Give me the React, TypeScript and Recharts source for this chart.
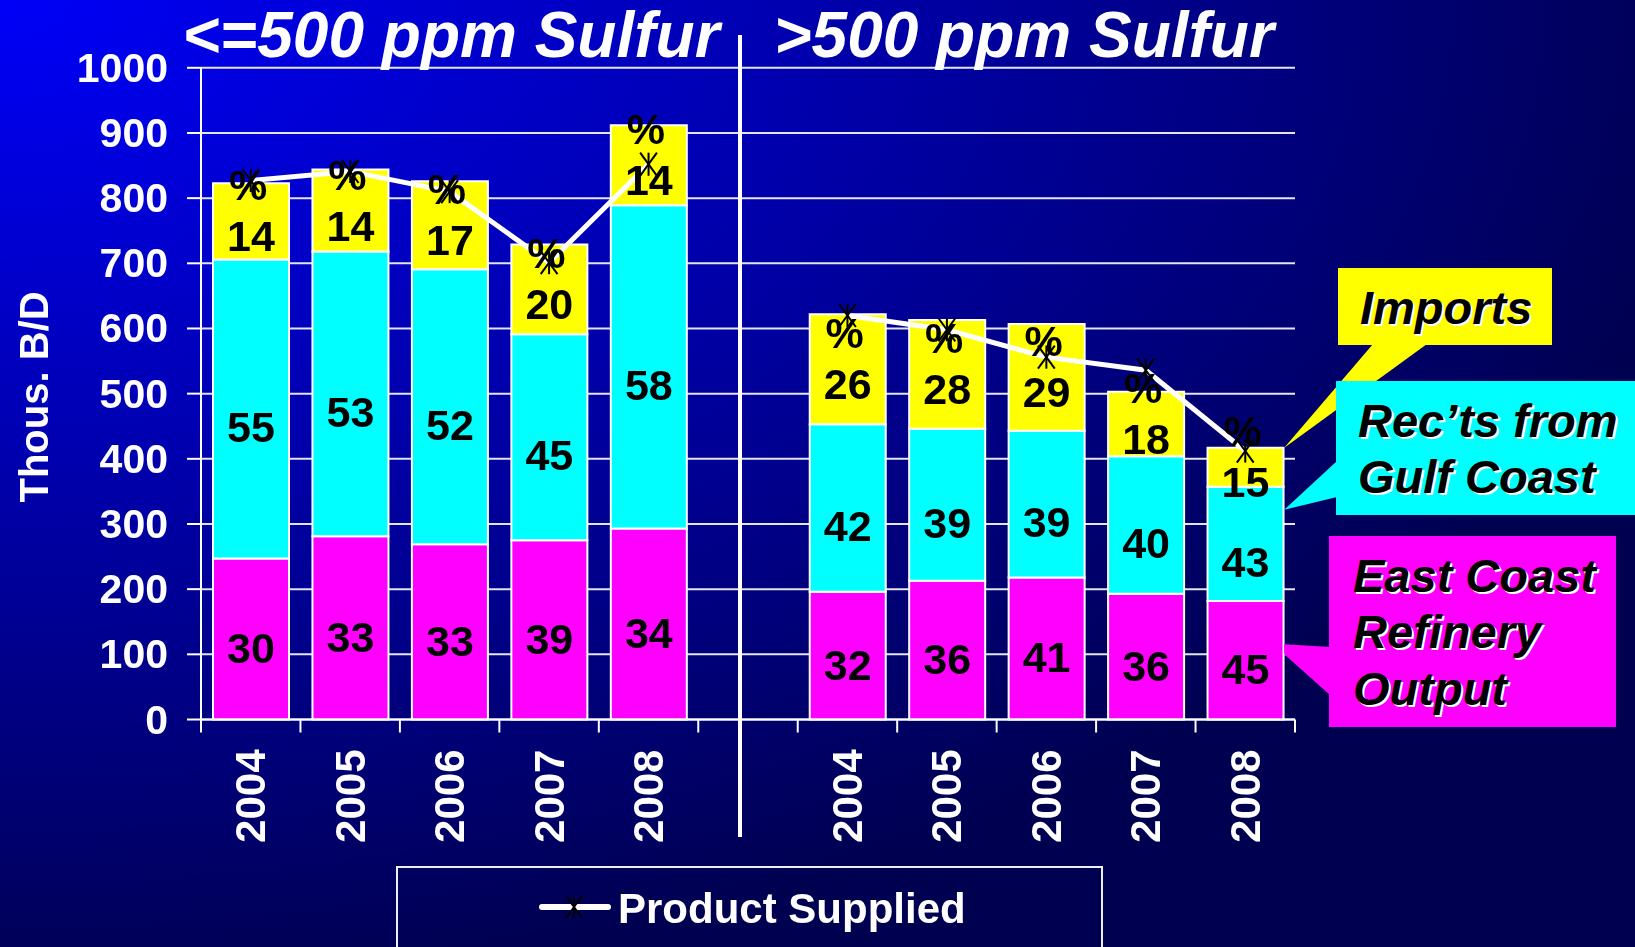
import React from 'react';
import { ComposedChart, Bar, Line, XAxis, YAxis, CartesianGrid, LabelList, Legend } from 'recharts';

// ---------- data ----------
const categories = ['2004', '2005', '2006', '2007', '2008', '', '2004', '2005', '2006', '2007', '2008'];
const refineryOutput = [247, 281, 269, 275, 293, null, 196, 213, 218, 193, 182];
const gulfCoastReceipts = [459, 437, 422, 316, 496, null, 257, 233, 225, 211, 175];
const imports = [117, 126, 135, 138, 123, null, 169, 167, 164, 99, 60];
const productSupplied = [827, 841, 810, 701, 852, null, 620, 598, 556, 536, 412];
const refineryPct = [30, 33, 33, 39, 34, null, 32, 36, 41, 36, 45];
const gulfPct = [55, 53, 52, 45, 58, null, 42, 39, 39, 40, 43];
const importsPct = [14, 14, 17, 20, 14, null, 26, 28, 29, 18, 15];
const yTicks = [0, 100, 200, 300, 400, 500, 600, 700, 800, 900, 1000];
const groupTitles = ['<=500 ppm Sulfur', '>500 ppm Sulfur'];
const seriesNames = ['East Coast Refinery Output', 'Rec\u2019ts from Gulf Coast', 'Imports', 'Product Supplied'];

const data = categories.map((year, i) => ({
  year,
  refinery: refineryOutput[i],
  gulf: gulfCoastReceipts[i],
  imports: imports[i],
  supplied: productSupplied[i],
  refPct: refineryPct[i],
  gulfPct: gulfPct[i],
  impPct: importsPct[i],
}));

// ---------- layout ----------
const W = 1635;
const H = 947;
const PLOT_L = 201;
const PLOT_R = 1295;
const PLOT_T = 67.8;
const PLOT_B = 719.5;
const Y_MAX = 1000;
const X_AXIS_H = 120;
const BAR = 76;
const FONT = '"Liberation Sans", Arial, Helvetica, sans-serif';
const SLOT = (PLOT_R - PLOT_L) / categories.length;

const yScale = (v: number) => PLOT_B - (v / Y_MAX) * (PLOT_B - PLOT_T);
const xCenter = (i: number) => PLOT_L + (i + 0.5) * SLOT;

const Star = ({ cx, cy, size = 1 }: any) => (
  <g stroke="#000" strokeWidth={2}>
    <line x1={cx} y1={cy - 11 * size} x2={cx} y2={cy + 11 * size} />
    <line x1={cx - 8 * size} y1={cy - 11 * size} x2={cx + 8 * size} y2={cy + 11 * size} />
    <line x1={cx + 8 * size} y1={cy - 11 * size} x2={cx - 8 * size} y2={cy + 11 * size} />
  </g>
);

const StarDot = (props: any) => {
  const { cx, cy, value, index } = props;
  if (value == null || cx == null || cy == null) return <g key={`d${index}`} />;
  return <g key={`d${index}`}><Star cx={cx} cy={cy} size={1.05} /></g>;
};

const makeLabel = (withPct: boolean, dy: number) => (props: any) => {
  const { x, y, width, height, value } = props;
  if (value == null || x == null) return null;
  const cx = Number(x) + Number(width) / 2;
  const cy = Number(y) + Number(height) / 2 + dy;
  const style = { fontFamily: FONT, fontWeight: 700, fontSize: 43, fill: '#000' } as any;
  return (
    <g>
      {withPct && (
        <text x={cx - 3} y={cy - 51} textAnchor="middle" dominantBaseline="central" style={style}>%</text>
      )}
      <text x={cx} y={cy} textAnchor="middle" dominantBaseline="central" style={style}>{value}</text>
    </g>
  );
};

const XTick = (props: any) => {
  const { x, payload, index } = props;
  const ty = PLOT_B + 30;
  return (
    <g>
      <line x1={x - SLOT / 2} x2={x - SLOT / 2} y1={PLOT_B} y2={PLOT_B + 13} stroke="#fff" strokeWidth={2} />
      {index === categories.length - 1 && (
        <line x1={x + SLOT / 2} x2={x + SLOT / 2} y1={PLOT_B} y2={PLOT_B + 13} stroke="#fff" strokeWidth={2} />
      )}
      <text
        x={x}
        y={ty}
        transform={`rotate(-90 ${x} ${ty})`}
        textAnchor="end"
        dominantBaseline="central"
        style={{ fontFamily: FONT, fontWeight: 700, fontSize: 42, fill: '#fff' }}
      >
        {payload.value}
      </text>
    </g>
  );
};

const YTick = (props: any) => {
  const { x, y, payload } = props;
  return (
    <text x={x} y={y} textAnchor="end" dominantBaseline="central"
      style={{ fontFamily: FONT, fontWeight: 700, fontSize: 41, fill: '#fff' }}>
      {payload.value}
    </text>
  );
};

const LegendBox = () => (
  <svg width={707} height={120} style={{ display: 'block', overflow: 'visible' }}>
    <rect x={1} y={1} width={705} height={140} fill="none" stroke="#eeeeee" strokeWidth={2} />
    <line x1={146} x2={212} y1={41} y2={41} stroke="#fff" strokeWidth={6} strokeLinecap="round" />
    <Star cx={178} cy={41} />
    <text x={222} y={57} style={{ fontFamily: FONT, fontWeight: 700, fontSize: 42, fill: '#fff' }}>
      {seriesNames[3]}
    </text>
  </svg>
);

const ShadowText = ({ x, y, children, size = 47 }: any) => {
  const st = { fontFamily: FONT, fontWeight: 700, fontStyle: 'italic', fontSize: size } as any;
  return (
    <g>
      <text x={x + 2} y={y + 2} style={{ ...st, fill: '#fff' }}>{children}</text>
      <text x={x} y={y} style={{ ...st, fill: '#000' }}>{children}</text>
    </g>
  );
};

const Overlay = () => {
  const last = categories.length - 1;
  const barRight = xCenter(last) + BAR / 2 + 1;
  const tot = (refineryOutput[last] as number) + (gulfCoastReceipts[last] as number) + (imports[last] as number);
  const impTipY = yScale(tot);
  const gulfTipY = yScale((refineryOutput[last] as number) + (gulfCoastReceipts[last] as number) * 0.8);
  const refTipY = yScale((refineryOutput[last] as number) * 0.6);
  const dividerX = xCenter(5) - 8;
  const titleStyle = { fontFamily: FONT, fontWeight: 700, fontStyle: 'italic', fontSize: 64, fill: '#fff' } as any;
  return (
    <svg width={W} height={H} style={{ position: 'absolute', left: 0, top: 0, pointerEvents: 'none' }}>
      {/* group divider */}
      <line x1={dividerX} x2={dividerX} y1={35} y2={837} stroke="#fff" strokeWidth={4} />
      {/* group titles */}
      <text x={451} y={57} textAnchor="middle" style={titleStyle}>{groupTitles[0]}</text>
      <text x={1024} y={57} textAnchor="middle" style={titleStyle}>{groupTitles[1]}</text>
      {/* y axis title */}
      <text x={34} y={397} transform="rotate(-90 34 397)" textAnchor="middle" dominantBaseline="central"
        style={{ fontFamily: FONT, fontWeight: 700, fontSize: 40, fill: '#fff' }}>Thous. B/D</text>

      {/* Imports callout */}
      <polygon points={`${1373},${344} ${1427},${344} ${barRight},${impTipY}`} fill="#ffff00" />
      <rect x={1338} y={268} width={214} height={77} fill="#ffff00" />
      <ShadowText x={1360} y={324}>Imports</ShadowText>

      {/* Gulf coast callout */}
      <polygon points={`${1337},${461} ${1337},${497} ${barRight},${gulfTipY}`} fill="#00ffff" />
      <rect x={1336} y={381} width={300} height={134} fill="#00ffff" />
      <ShadowText x={1358} y={437}>Rec{'\u2019'}ts from</ShadowText>
      <ShadowText x={1358} y={493}>Gulf Coast</ShadowText>

      {/* Refinery callout */}
      <polygon points={`${1330},${647} ${1330},${695} ${barRight},${refTipY + 6} ${barRight},${refTipY - 4}`} fill="#ff00ff" />
      <rect x={1329} y={536} width={287} height={191} fill="#ff00ff" />
      <ShadowText x={1353} y={592}>East Coast</ShadowText>
      <ShadowText x={1353} y={648}>Refinery</ShadowText>
      <ShadowText x={1353} y={705}>Output</ShadowText>
    </svg>
  );
};

export default function App() {
  return (
    <div
      style={{
        position: 'fixed',
        left: 0,
        top: 0,
        width: W,
        height: H,
        overflow: 'hidden',
        background: 'radial-gradient(1750px 1000px at 0px 0px, #0000f8 0%, #0000b0 45%, #000050 100%)',
      }}
    >
      <ComposedChart
        width={W}
        height={H}
        data={data}
        margin={{ top: PLOT_T, right: W - PLOT_R, bottom: H - PLOT_B - X_AXIS_H, left: 0 }}
      >
        <CartesianGrid horizontal vertical={false} stroke="#e4e4ee" strokeWidth={2} />
        <XAxis
          dataKey="year"
          height={X_AXIS_H}
          tick={<XTick />}
          tickLine={false}
          interval={0}
          axisLine={{ stroke: '#fff', strokeWidth: 2 }}
        />
        <YAxis
          width={PLOT_L}
          domain={[0, Y_MAX]}
          ticks={yTicks}
          interval={0}
          tick={<YTick />}
          tickSize={14}
          tickMargin={19}
          tickLine={{ stroke: '#fff', strokeWidth: 2 }}
          axisLine={{ stroke: '#fff', strokeWidth: 2 }}
        />
        <Bar dataKey="refinery" name={seriesNames[0]} stackId="s" fill="#ff00ff" stroke="#fff" strokeWidth={2} barSize={BAR} isAnimationActive={false}>
          <LabelList dataKey="refPct" content={makeLabel(false, 9)} />
        </Bar>
        <Bar dataKey="gulf" name={seriesNames[1]} stackId="s" fill="#00ffff" stroke="#fff" strokeWidth={2} barSize={BAR} isAnimationActive={false}>
          <LabelList dataKey="gulfPct" content={makeLabel(false, 18)} />
        </Bar>
        <Bar dataKey="imports" name={seriesNames[2]} stackId="s" fill="#ffff00" stroke="#fff" strokeWidth={2} barSize={BAR} isAnimationActive={false}>
          <LabelList dataKey="impPct" content={makeLabel(true, 15)} />
        </Bar>
        <Line
          dataKey="supplied"
          name={seriesNames[3]}
          stroke="#fff"
          strokeWidth={5}
          dot={<StarDot />}
          activeDot={false}
          connectNulls={false}
          isAnimationActive={false}
        />
        <Legend
          layout="vertical"
          align="center"
          verticalAlign="middle"
          content={<LegendBox />}
          wrapperStyle={{ left: 396, top: 866, width: 707, height: 120 }}
        />
      </ComposedChart>
      <Overlay />
    </div>
  );
}
